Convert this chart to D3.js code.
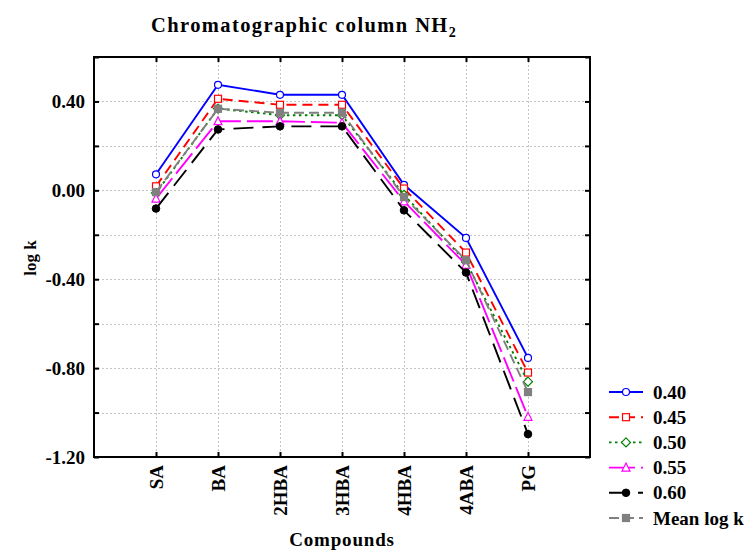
<!DOCTYPE html>
<html>
<head>
<meta charset="utf-8">
<script src="https://cdn.jsdelivr.net/npm/d3@7/dist/d3.min.js"></script>
<style>
  html, body { margin: 0; padding: 0; background: #fff; }
  svg { display: block; }
  text { font-family: "Liberation Serif", "Times New Roman", serif; font-weight: bold; fill: #000; }
</style>
</head>
<body>
<svg id="chart" width="753" height="552"></svg>
<script>
// Compounds on the x axis
const compounds = ["SA", "BA", "2HBA", "3HBA", "4HBA", "4ABA", "PG"];

// log k per mobile-phase composition
const k040 = [0.072, 0.475, 0.430, 0.430, 0.025, -0.214, -0.754];
const k045 = [0.018, 0.412, 0.385, 0.385, 0.008, -0.280, -0.820];
const k050 = [-0.012, 0.368, 0.338, 0.338, -0.020, -0.322, -0.861];
const k055 = [-0.037, 0.311, 0.311, 0.304, -0.050, -0.335, -1.019];
const k060 = [-0.082, 0.274, 0.288, 0.288, -0.090, -0.370, -1.097];
const kMean = [-0.008, 0.367, 0.349, 0.349, -0.030, -0.315, -0.908];

const seriesNames = ["0.40", "0.45", "0.50", "0.55", "0.60", "Mean log k"];
const seriesValues = [k040, k045, k050, k055, k060, kMean];

// y tick values (labels on every second one)
const yTicks = [-1.2, -1.0, -0.8, -0.6, -0.4, -0.2, 0.0, 0.2, 0.4, 0.6];
const yLabelTicks = [-1.2, -0.8, -0.4, 0.0, 0.4];

// appearance of each series
const styles = [
  { color: "#0000ff", dash: null,    marker: "circle",   fill: "#fff" },
  { color: "#ff0000", dash: "10,6",  marker: "square",   fill: "#fff" },
  { color: "#008000", dash: "2.5,3.5", marker: "diamond", fill: "#fff" },
  { color: "#ff00ff", dash: "26,6",  marker: "triangle", fill: "#fff" },
  { color: "#000000", dash: "20,9",  marker: "dot",      fill: "#000" },
  { color: "#808080", dash: "10,5",  marker: "square",   fill: "#808080" }
];

const svg = d3.select("#chart");
const L = 94, R = 590, T = 57, B = 457;

const x = d3.scaleLinear().domain([0, compounds.length + 1]).range([L, R]);
const y = d3.scaleLinear().domain([-1.2, 0.6]).range([B, T]);

// Title
const title = svg.append("text")
  .attr("x", 151).attr("y", 32)
  .style("font-size", "20.5px")
  .style("letter-spacing", "1.4px");
title.append("tspan").text("Chromatographic column NH");
title.append("tspan").text("2").attr("dy", 5).style("font-size", "14px");

// Grid
const grid = svg.append("g").attr("stroke", "#c4c4c4").attr("stroke-width", 1)
  .attr("stroke-dasharray", "2,2");
grid.selectAll("line.h").data(yTicks.filter(v => v > -1.2 + 1e-9 && v < 0.6 - 1e-9))
  .join("line").attr("class", "h")
  .attr("x1", L).attr("x2", R)
  .attr("y1", d => Math.round(y(d)) + 0.5).attr("y2", d => Math.round(y(d)) + 0.5);
grid.selectAll("line.v").data(compounds)
  .join("line").attr("class", "v")
  .attr("y1", T).attr("y2", B)
  .attr("x1", (d, i) => Math.round(x(i + 1)) + 0.5).attr("x2", (d, i) => Math.round(x(i + 1)) + 0.5);

// Axes
const fmt = v => (Math.abs(v) < 1e-9 ? 0 : v).toFixed(2);
const isLabel = v => yLabelTicks.some(t => Math.abs(t - v) < 1e-9);

const yAxis = svg.append("g").attr("transform", `translate(${L},0)`)
  .call(d3.axisLeft(y).tickValues(yTicks).tickSize(-5).tickPadding(9)
    .tickFormat(v => isLabel(v) ? fmt(v) : ""));
yAxis.selectAll("text").style("font-size", "19px");

svg.append("g").attr("transform", `translate(${R},0)`)
  .call(d3.axisRight(y).tickValues(yTicks).tickSize(-5).tickFormat(""));

const xTickVals = compounds.map((d, i) => i + 1);
const xAxis = svg.append("g").attr("transform", `translate(0,${B})`)
  .call(d3.axisBottom(x).tickValues(xTickVals).tickSize(-5)
    .tickFormat(v => compounds[v - 1]));
xAxis.selectAll("text")
  .style("font-size", "19px")
  .attr("text-anchor", "end")
  .attr("x", 0).attr("y", 0).attr("dy", "0.34em")
  .attr("transform", "translate(0,8) rotate(-90)");

svg.append("g").attr("transform", `translate(0,${T})`)
  .call(d3.axisTop(x).tickValues(xTickVals).tickSize(-5).tickFormat(""));

svg.selectAll(".domain").remove();
svg.selectAll(".tick line").attr("stroke", "#000").attr("stroke-width", 2);

// Frame
svg.append("rect").attr("x", L).attr("y", T).attr("width", R - L).attr("height", B - T)
  .attr("fill", "none").attr("stroke", "#000").attr("stroke-width", 2);

// Axis titles
svg.append("text").attr("transform", "translate(36,258) rotate(-90)")
  .attr("text-anchor", "middle").style("font-size", "17px").text("log k");
svg.append("text").attr("x", 342).attr("y", 546)
  .attr("text-anchor", "middle").style("font-size", "19px")
  .style("letter-spacing", "0.8px").text("Compounds");

// Marker drawing
function marker(g, type, color, fill) {
  switch (type) {
    case "circle":
      g.append("circle").attr("r", 3.5).attr("fill", fill).attr("stroke", color).attr("stroke-width", 1.2); break;
    case "dot":
      g.append("circle").attr("r", 3.8).attr("fill", fill).attr("stroke", color).attr("stroke-width", 1); break;
    case "square":
      g.append("rect").attr("x", -3.5).attr("y", -3.5).attr("width", 7).attr("height", 7)
        .attr("fill", fill).attr("stroke", color).attr("stroke-width", 1.2); break;
    case "diamond":
      g.append("path").attr("d", "M0,-4.5L4.5,0L0,4.5L-4.5,0Z")
        .attr("fill", fill).attr("stroke", color).attr("stroke-width", 1.2); break;
    case "triangle":
      g.append("path").attr("d", "M0,-4.5L4,3.5L-4,3.5Z")
        .attr("fill", fill).attr("stroke", color).attr("stroke-width", 1.2); break;
  }
}

// Series lines and markers
const line = d3.line().x((d, i) => x(i + 1)).y(d => y(d));
seriesValues.forEach((vals, s) => {
  const st = styles[s];
  const g = svg.append("g");
  g.append("path").attr("d", line(vals)).attr("fill", "none")
    .attr("stroke", st.color).attr("stroke-width", 1.9)
    .attr("stroke-dasharray", st.dash);
  vals.forEach((v, i) => {
    const m = g.append("g").attr("transform", `translate(${x(i + 1)},${y(v)})`);
    marker(m, st.marker, st.color, st.fill);
  });
});

// Legend
const legend = svg.append("g");
seriesNames.forEach((name, s) => {
  const st = styles[s];
  const yy = 392 + s * 25.2;
  const row = legend.append("g").attr("transform", `translate(0,${yy})`);
  row.append("line").attr("x1", 609).attr("x2", 643).attr("y1", 0).attr("y2", 0)
    .attr("stroke", st.color).attr("stroke-width", 1.9)
    .attr("stroke-dasharray", st.dash);
  marker(row.append("g").attr("transform", "translate(626,0)"), st.marker, st.color, st.fill);
  row.append("text").attr("x", 653).attr("y", 0).attr("dy", "0.35em")
    .style("font-size", "19px").text(name);
});
</script>
</body>
</html>
